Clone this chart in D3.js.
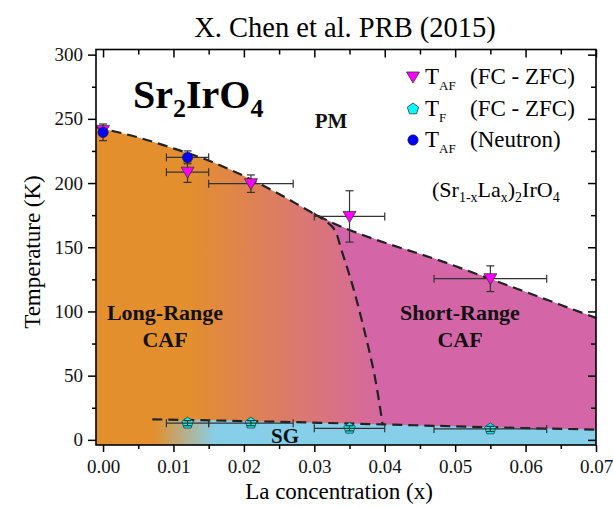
<!DOCTYPE html>
<html><head><meta charset="utf-8">
<script src="https://cdn.jsdelivr.net/npm/d3@7"></script>
<style>
html,body{margin:0;padding:0;background:#fff;}
svg{display:block;font-family:"Liberation Serif","Times New Roman",serif;}
</style></head>
<body><svg id="chart" width="613" height="508"></svg>
<script>
// Magnetic phase diagram of (Sr1-xLax)2IrO4

// T_AF from FC - ZFC magnetisation
const tafX = [0.000, 0.012, 0.021, 0.035, 0.055];
const tafT = [241, 208.5, 199.5, 174, 125.5];
const tafXErr = [0, 0.003, 0.006, 0.005, 0.008];
const tafTErr = [0, 8, 6.8, 20, 10];

// T_AF from neutron diffraction
const neutronX = [0.000, 0.012];
const neutronT = [239.5, 220];
const neutronXErr = [0, 0.003];
const neutronTErr = [6.5, 5];

// T_F (spin-glass freezing) from FC - ZFC
const tfX = [0.012, 0.021, 0.035, 0.055];
const tfT = [13, 13, 9, 8.5];
const tfXErr = [0.003, 0.006, 0.005, 0.008];
const tfTErr = [2, 2, 2, 2];

// phase boundaries
const tnLineX = [-0.001, 0.005, 0.010, 0.015, 0.020, 0.025, 0.030, 0.050, 0.070];
const tnLineT = [243.5, 235.5, 227, 217.5, 205.5, 191.5, 176, 135.4, 95];
const crossX = [0.030, 0.0327, 0.0339, 0.0356, 0.0372, 0.0386, 0.0397];
const crossT = [176, 165, 147, 117, 83, 49, 12];
const sgLineX = [0.007, 0.027, 0.040, 0.055, 0.070];
const sgLineT = [16, 13.8, 12, 9.8, 8];

// axis ticks
const xTicks = [0, 0.01, 0.02, 0.03, 0.04, 0.05, 0.06, 0.07];
const xMinorTicks = [0.005, 0.015, 0.025, 0.035, 0.045, 0.055, 0.065];
const yTicks = [0, 50, 100, 150, 200, 250, 300];
const yMinorTicks = [25, 75, 125, 175, 225, 275];

const colOrange = "#e38f2d", colPink = "#d466a7", colSky = "#87cfe9";

const svg = d3.select("#chart");
const L = 96, R = 596, T = 49.5, B = 445;
const xMin = -0.001, xMax = 0.07, yMin = -4, yMax = 304;
const x = d3.scaleLinear().domain([xMin, xMax]).range([L, R]);
const y = d3.scaleLinear().domain([yMin, yMax]).range([B, T]);

const zip = (xs, ts) => xs.map((v, i) => [v, ts[i]]);
const tnPts = zip(tnLineX, tnLineT);
const crossPts = zip(crossX, crossT);
const sgPts = zip(sgLineX, sgLineT);

const defs = svg.append("defs");
const g1 = defs.append("linearGradient").attr("id", "lrGrad")
  .attr("gradientUnits", "userSpaceOnUse")
  .attr("x1", x(0.012)).attr("x2", x(0.041)).attr("y1", 0).attr("y2", 0);
g1.append("stop").attr("offset", 0).attr("stop-color", colOrange);
g1.append("stop").attr("offset", 1).attr("stop-color", colPink);
const g2 = defs.append("linearGradient").attr("id", "sgGrad")
  .attr("gradientUnits", "userSpaceOnUse")
  .attr("x1", x(0.0072)).attr("x2", x(0.016)).attr("y1", 0).attr("y2", 0);
g2.append("stop").attr("offset", 0).attr("stop-color", colOrange);
g2.append("stop").attr("offset", 1).attr("stop-color", colSky);

// ordered region under the TN boundary
const tnArea = d3.area().curve(d3.curveMonotoneX)
  .x(d => x(d[0])).y0(y(yMin)).y1(d => y(d[1]));
defs.append("clipPath").attr("id", "underTN")
  .append("path").attr("d", tnArea(tnPts));

svg.append("path").attr("d", tnArea(tnPts)).attr("fill", "url(#lrGrad)");

// short-range region: right of the crossover curve
const crossLine = d3.line().curve(d3.curveCatmullRom)
  .x(d => x(d[0])).y(d => y(d[1]));
const last = crossPts[crossPts.length - 1];
const srPath = crossLine(crossPts) +
  `L${x(last[0])},${y(yMin)}L${x(xMax)},${y(yMin)}L${x(xMax)},${y(yMax)}L${x(crossPts[0][0])},${y(yMax)}Z`;
svg.append("path").attr("d", srPath).attr("fill", colPink).attr("clip-path", "url(#underTN)");

// spin-glass strip
const sgArea = d3.area().curve(d3.curveMonotoneX)
  .x(d => x(d[0])).y0(y(yMin)).y1(d => y(d[1]));
svg.append("path").attr("d", sgArea([[xMin, sgLineT[0]]].concat(sgPts))).attr("fill", "url(#sgGrad)");

// dashed boundaries
const monoLine = d3.line().curve(d3.curveMonotoneX).x(d => x(d[0])).y(d => y(d[1]));
const dashStyle = s => s.attr("fill", "none").attr("stroke", "#222")
  .attr("stroke-width", 2.2).attr("stroke-dasharray", "10,6");
svg.append("path").attr("d", monoLine(tnPts)).call(dashStyle);
svg.append("path").attr("d", crossLine(crossPts)).call(dashStyle);
svg.append("path").attr("d", monoLine(sgPts)).call(dashStyle);

// error bars
function errorBars(xs, ts, xe, te) {
  const gE = svg.append("g").attr("stroke", "#333").attr("stroke-width", 1.2).attr("fill", "none");
  xs.forEach((xv, i) => {
    const cx = x(xv), cy = y(ts[i]);
    if (xe[i] > 0) {
      const a = x(xv - xe[i]), b = x(xv + xe[i]);
      gE.append("line").attr("x1", a).attr("x2", b).attr("y1", cy).attr("y2", cy);
      gE.append("line").attr("x1", a).attr("x2", a).attr("y1", cy - 4).attr("y2", cy + 4);
      gE.append("line").attr("x1", b).attr("x2", b).attr("y1", cy - 4).attr("y2", cy + 4);
    }
    if (te[i] > 0) {
      const a = y(ts[i] + te[i]), b = y(ts[i] - te[i]);
      gE.append("line").attr("x1", cx).attr("x2", cx).attr("y1", a).attr("y2", b);
      gE.append("line").attr("x1", cx - 4).attr("x2", cx + 4).attr("y1", a).attr("y2", a);
      gE.append("line").attr("x1", cx - 4).attr("x2", cx + 4).attr("y1", b).attr("y2", b);
    }
  });
}

// marker shapes
const polyPath = pts => "M" + pts.map(p => p.join(",")).join("L") + "Z";
const triDown = polyPath([[-6.5, -5], [6.5, -5], [0, 6]]);
const pentagon = polyPath(d3.range(5).map(k => {
  const a = -Math.PI / 2 + k * 2 * Math.PI / 5;
  return [6 * Math.cos(a), 6 * Math.sin(a)];
}));

function drawTri(cx, cy) {
  svg.append("path").attr("d", triDown).attr("transform", `translate(${cx},${cy})`)
    .attr("fill", "#ff00ff").attr("stroke", "#333").attr("stroke-width", 0.8);
}
function drawPent(cx, cy) {
  svg.append("path").attr("d", pentagon).attr("transform", `translate(${cx},${cy})`)
    .attr("fill", "#00ffff").attr("stroke", "#333").attr("stroke-width", 0.8);
}
function drawCirc(cx, cy) {
  svg.append("circle").attr("cx", cx).attr("cy", cy).attr("r", 5.2)
    .attr("fill", "#0000ff").attr("stroke", "#222").attr("stroke-width", 0.6);
}

errorBars(tafX, tafT, tafXErr, tafTErr);
tafX.forEach((v, i) => drawTri(x(v), y(tafT[i])));
errorBars(neutronX, neutronT, neutronXErr, neutronTErr);
neutronX.forEach((v, i) => drawCirc(x(v), y(neutronT[i])));
tfX.forEach((v, i) => drawPent(x(v), y(tfT[i])));
errorBars(tfX, tfT, tfXErr, tfTErr);

// axes
function styleAxis(g) {
  g.select(".domain").remove();
  g.selectAll(".tick line").attr("stroke", "#000").attr("stroke-width", 1.5);
  g.selectAll(".tick text").attr("font-family", "Liberation Serif").attr("font-size", 19).attr("fill", "#111");
}
svg.append("g").attr("transform", `translate(0,${B})`)
  .call(d3.axisBottom(x).tickValues(xTicks).tickSize(7).tickPadding(7.5).tickFormat(d3.format(".2f"))).call(styleAxis);
svg.append("g").attr("transform", `translate(0,${B})`)
  .call(d3.axisBottom(x).tickValues(xMinorTicks).tickSize(4).tickFormat("")).call(styleAxis);
svg.append("g").attr("transform", `translate(0,${T})`)
  .call(d3.axisTop(x).tickValues(xTicks).tickSize(-8).tickFormat("")).call(styleAxis);
svg.append("g").attr("transform", `translate(0,${T})`)
  .call(d3.axisTop(x).tickValues(xMinorTicks).tickSize(-5).tickFormat("")).call(styleAxis);
svg.append("g").attr("transform", `translate(${L},0)`)
  .call(d3.axisLeft(y).tickValues(yTicks).tickSize(8).tickPadding(5)).call(styleAxis);
svg.append("g").attr("transform", `translate(${L},0)`)
  .call(d3.axisLeft(y).tickValues(yMinorTicks).tickSize(4).tickFormat("")).call(styleAxis);
svg.append("g").attr("transform", `translate(${R},0)`)
  .call(d3.axisRight(y).tickValues(yTicks).tickSize(-8).tickFormat("")).call(styleAxis);
svg.append("g").attr("transform", `translate(${R},0)`)
  .call(d3.axisRight(y).tickValues(yMinorTicks).tickSize(-5).tickFormat("")).call(styleAxis);

svg.append("rect").attr("x", L).attr("y", T).attr("width", R - L).attr("height", B - T)
  .attr("fill", "none").attr("stroke", "#000").attr("stroke-width", 1.6);

// titles
svg.append("text").attr("x", 345).attr("y", 37).attr("text-anchor", "middle")
  .attr("font-size", 28.5).text("X. Chen et al. PRB (2015)");
svg.append("text").attr("x", (L + R) / 2 - 7).attr("y", 499).attr("text-anchor", "middle")
  .attr("font-size", 23).text("La concentration (x)");
svg.append("text").attr("transform", "translate(40,252) rotate(-90)").attr("text-anchor", "middle")
  .attr("font-size", 23).text("Temperature (K)");

// compound label
const comp = svg.append("text").attr("x", 133).attr("y", 108).attr("font-size", 40).attr("font-weight", "bold");
comp.append("tspan").text("Sr");
comp.append("tspan").attr("font-size", 26).attr("dy", 9).text("2");
comp.append("tspan").attr("dy", -9).text("IrO");
comp.append("tspan").attr("font-size", 26).attr("dy", 9).text("4");

// phase labels
const bold = (tx, ty, s, size) => svg.append("text").attr("x", tx).attr("y", ty)
  .attr("text-anchor", "middle").attr("font-size", size).attr("font-weight", "bold").attr("fill", "#111").text(s);
bold(331, 128, "PM", 21);
bold(165, 320, "Long-Range", 22);
bold(165, 347, "CAF", 22);
bold(460, 320, "Short-Range", 22);
bold(460, 347, "CAF", 22);
bold(285, 443, "SG", 21);

// legend
function legendLabel(ly, sub, rest) {
  const t = svg.append("text").attr("x", 425).attr("y", ly).attr("font-size", 23);
  t.append("tspan").text("T");
  t.append("tspan").attr("font-size", 13).attr("dy", 6).text(sub);
  svg.append("text").attr("x", 470).attr("y", ly).attr("font-size", 23).text(rest);
}
drawTri(413, 77); legendLabel(84, "AF", "(FC - ZFC)");
drawPent(413, 109); legendLabel(116, "F", "(FC - ZFC)");
drawCirc(413, 140); legendLabel(147, "AF", "(Neutron)");

const form = svg.append("text").attr("x", 432).attr("y", 197).attr("font-size", 22);
form.append("tspan").text("(Sr");
form.append("tspan").attr("font-size", 14).attr("dy", 5).text("1-x");
form.append("tspan").attr("dy", -5).text("La");
form.append("tspan").attr("font-size", 14).attr("dy", 5).text("x");
form.append("tspan").attr("dy", -5).text(")");
form.append("tspan").attr("font-size", 14).attr("dy", 5).text("2");
form.append("tspan").attr("dy", -5).text("IrO");
form.append("tspan").attr("font-size", 14).attr("dy", 5).text("4");
</script>
</body></html>
